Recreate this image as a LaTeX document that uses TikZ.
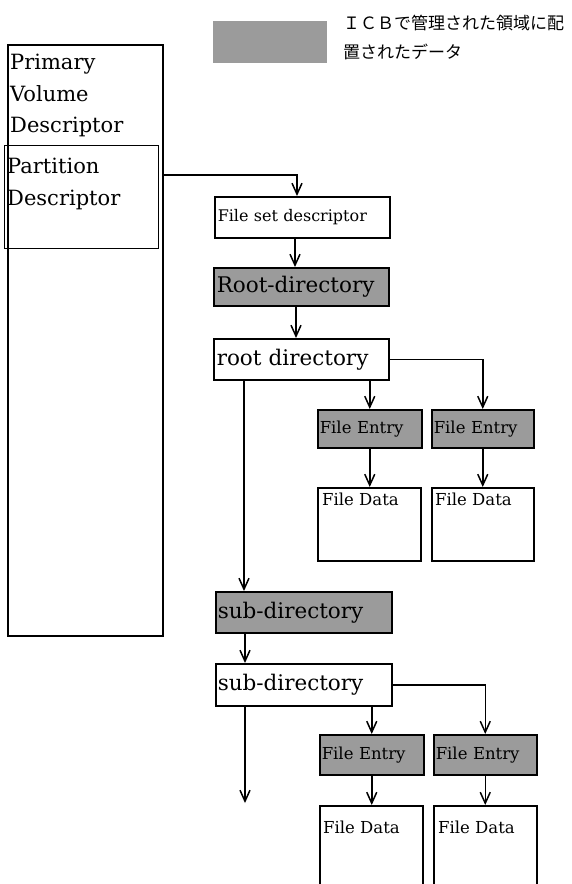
\documentclass[tikz,border=0pt]{standalone}
\usepackage{fontspec}
\setmainfont{DejaVu Serif}
\newfontfamily\jp{Noto Sans CJK JP}
\usetikzlibrary{arrows.meta}
\definecolor{ht}{RGB}{155,155,155}
\newcommand{\fsz}[1]{\fontsize{#1}{#1}\selectfont}
\begin{document}
\begin{tikzpicture}[x=1pt,y=-1pt,
  box/.style={draw, line width=1.5pt, inner sep=0pt, anchor=north west, align=left},
  gbox/.style={box, fill=ht},
  arr/.style={line width=1.5pt, -{Straight Barb[length=11pt,width=10pt,line width=1.5pt]}},
  lbl/.style={inner sep=0pt, anchor=base west},
  big/.style={font=\fsz{21}},
  mid/.style={font=\fsz{21.5}},
  fsdf/.style={font=\fsz{16}},
  sml/.style={font=\fsz{16.5}},
]
\useasboundingbox (0,0) rectangle (571,884);

% legend
\node[gbox, draw=none, minimum width=114, minimum height=42] (leg) at (212,20) {};
\node[inner sep=0pt, anchor=west, font=\jp\fsz{17}] (legt1) at (343,23) {ＩＣＢで管理された領域に配};
\node[inner sep=0pt, anchor=west, font=\jp\fsz{17}] (legt2) at (343,52) {置されたデータ};

% left column
\node[box, minimum width=155, minimum height=591] (vol) at (7,44) {};
\node[box, line width=1.3pt, minimum width=154, minimum height=103] (part) at (4,145) {};
\node[lbl, big] (pv1) at (10,69) {Primary};
\node[lbl, big] (pv2) at (10,101) {Volume};
\node[lbl, big] (pv3) at (10,132) {Descriptor};
\node[lbl, big] (pd1) at (7,173) {Partition};
\node[lbl, big] (pd2) at (7,205) {Descriptor};

% right column
\node[box, fsdf, minimum width=175, minimum height=41, text width=169] (fsd) at (214,196) {File set descriptor};
\node[gbox, mid, minimum width=175, minimum height=38, text width=169] (root) at (213,267) {Root-directory};
\node[box, mid, minimum width=175, minimum height=41, text width=169] (rdir) at (213,338) {root directory};
\node[gbox, sml, minimum width=104, minimum height=38, text width=100] (fe1) at (317,409) {File Entry};
\node[gbox, sml, minimum width=102, minimum height=38, text width=98] (fe2) at (431,409) {File Entry};
\node[box, minimum width=103, minimum height=73] (fd1) at (317,487) {};
\node[box, minimum width=102, minimum height=73] (fd2) at (431,487) {};
\node[lbl, sml] (fd1t) at (322,505) {File Data};
\node[lbl, sml] (fd2t) at (435,505) {File Data};

\node[gbox, mid, minimum width=176, minimum height=41, text width=172] (sub) at (215,591) {sub-directory};
\node[box, mid, minimum width=176, minimum height=42, text width=172] (sdir) at (215,663) {sub-directory};
\node[gbox, sml, minimum width=104, minimum height=40, text width=100] (fe3) at (319,734) {File Entry};
\node[gbox, sml, minimum width=103, minimum height=40, text width=99] (fe4) at (433,734) {File Entry};
\node[box, minimum width=103, minimum height=95] (fd3) at (319,805) {};
\node[box, minimum width=103, minimum height=95] (fd4) at (433,805) {};
\node[lbl, sml] (fd3t) at (323,833) {File Data};
\node[lbl, sml] (fd4t) at (438,833) {File Data};

\coordinate (endp) at (245,803);

% connectors
\draw[arr] (vol.east |- 0,175) -| (297,0 |- fsd.north);
\draw[arr] (295,0 |- fsd.south) -- (295,0 |- root.north);
\draw[arr] (296,0 |- root.south) -- (296,0 |- rdir.north);
\draw[arr] (fe1.north |- rdir.south) -- (fe1.north);
\draw[arr] (rdir.east) -| (fe2.north);
\draw[arr] (fe1.south) -- (fe1.south |- fd1.north);
\draw[arr] (fe2.south) -- (fe2.south |- fd2.north);
\draw[arr] (244,0 |- rdir.south) -- (244,0 |- sub.north);
\draw[arr] (245,0 |- sub.south) -- (245,0 |- sdir.north);
\draw[arr] (sdir.east) -| (fe4.north);
\draw[arr] (fe3.north |- sdir.south) -- (fe3.north);
\draw[arr] (fe3.south) -- (fe3.south |- fd3.north);
\draw[arr] (fe4.south) -- (fe4.south |- fd4.north);
\draw[arr] (245,0 |- sdir.south) -- (endp);
\end{tikzpicture}
\end{document}
